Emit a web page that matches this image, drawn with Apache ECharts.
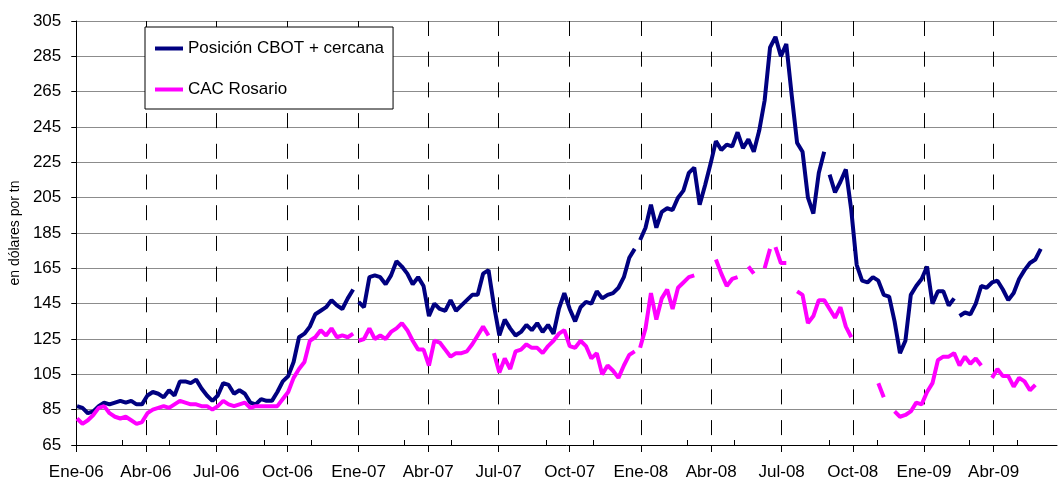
<!DOCTYPE html>
<html><head><meta charset="utf-8">
<script src="https://cdn.jsdelivr.net/npm/echarts@6/dist/echarts.min.js"></script>
<style>html,body{margin:0;padding:0;background:#fff}#c{width:1058px;height:484px}</style>
</head><body><div id="c"></div>
<script>
// Weekly observations, first week starts Monday 2006-01-02
const firstWeek = [2006, 0, 2];

// Posición CBOT + cercana (USD/tn), weekly
const cbot2006 = [87,86,83,84,87,89,88,89,90,89, 90,88,88,93,95,94,92,96,93,101, 101,100,102,97,93,90,93,100,99,94,
  96,94,89,88,91,90,90,95,101,104, 112,126,128,132,139,141,143,147,144,142, 148,153];
const cbot2007 = [146,143,160,161,160,156,161,169,166,162, 156,160,155,138,145,142,141,147,141,144,
  147,150,150,162,164,144,127,136,131,127, 129,133,130,134,129,133,128,142,151,142,
  135,143,146,145,152,148,150,151,154,160, 171,176];
const cbot2008 = [181,188,201,188,197,199,198,205,209,219, 222,201,212,224,237,232,235,234,242,233,
  238,231,243,260,290,296,285,292,263,236, 231,205,196,219,231,218,208,214,221,198,
  167,158,157,160,158,150,149,135,117,124, 150,155];
const cbot2009 = [159,166,145,152,152,144,148,138,140,139, 145,155,154,157,158,153,147,151,159,164, 168,170,176];

// CAC Rosario (USD/tn), weekly; null = no quotation
const cac2006 = [80,77,79,82,86,87,83,81,80,81, 79,77,78,83,85,86,87,86,88,90, 89,88,88,87,87,85,87,90,88,87,
  88,89,86,87,87,87,87,87,91,95, 103,108,112,124,126,130,127,131,126,127, 126,128];
const cac2007 = [124,125,131,125,127,125,129,131,134,130, 124,119,119,110,124,123,119,115,117,117,
  118,122,127,132,127,117,106,114,108,118, 119,122,120,120,117,121,124,128,130,121,
  120,124,121,114,117,105,110,107,103,110, 116,118];
const cac2008 = [120,131,151,136,148,153,142,154,157,160, 161,null,null,null,170,162,155,159,160,null,
  166,162,null,165,176,177,168,168,null,152, 150,134,138,147,147,142,137,143,132,126,
  null,null,null,null,100,92,null,84,81,82, 84,89];
const cac2009 = [88,95,100,113,115,115,117,110,115,111, 114,110,null,103,108,104,104,98,103,101, 96,99,null];

// Dates with no quotation between two weekly points (break the line)
const cbotGaps = ['2006-12-28', '2007-12-27', '2008-08-28', '2009-02-12'];
const cacGaps = ['2006-12-28', '2007-06-21', '2007-12-27', '2008-06-19'];

// Axis ticks
const quarterDates = ['2006-01-01','2006-04-01','2006-07-01','2006-10-01','2007-01-01','2007-04-01','2007-07-01','2007-10-01',
  '2008-01-01','2008-04-01','2008-07-01','2008-10-01','2009-01-01','2009-04-01'];
const quarterLabels = ['Ene-06','Abr-06','Jul-06','Oct-06','Ene-07','Abr-07','Jul-07','Oct-07',
  'Ene-08','Abr-08','Jul-08','Oct-08','Ene-09','Abr-09'];
const minorDates = ['2006-03-01','2006-05-01','2006-09-01','2006-11-01','2007-03-01','2007-05-01','2007-09-01','2007-11-01',
  '2008-03-01','2008-05-01','2008-09-01','2008-11-01','2009-03-01','2009-05-01'];
const xMin = '2006-01-01', xMax = '2009-06-22';

function ts(s){ const p = s.split('-').map(Number); return Date.UTC(p[0], p[1]-1, p[2]); }
function weekTs(i){ return Date.UTC(firstWeek[0], firstWeek[1], firstWeek[2] + 7*i); }
function build(vals, gaps){
  const pts = vals.map((v,i) => [weekTs(i), v == null ? '-' : v]);
  gaps.forEach(g => pts.push([ts(g), '-']));
  pts.sort((a,b) => a[0]-b[0]);
  return pts;
}
const cbot = build([].concat(cbot2006, cbot2007, cbot2008, cbot2009), cbotGaps);
const cac = build([].concat(cac2006, cac2007, cac2008, cac2009), cacGaps);

const FONT = "'Liberation Sans',Arial,sans-serif";
const qTs = quarterDates.map(ts);

const chart = echarts.init(document.getElementById('c'), null, {renderer:'canvas'});
chart.setOption({
  animation: false,
  backgroundColor: '#fff',
  grid: {left: 75, right: 1, top: 21, bottom: 39, containLabel: false},
  legend: {
    left: 145, top: 27, orient: 'vertical',
    padding: [13, 9, 11, 10], itemGap: 24, itemWidth: 28, itemHeight: 4, icon: 'rect',
    backgroundColor: '#fff', borderColor: '#000', borderWidth: 1,
    textStyle: {fontSize: 17, fontFamily: FONT, color: '#000'},
    data: ['Posición CBOT + cercana', 'CAC Rosario']
  },
  xAxis: [{
    type: 'value', min: ts(xMin), max: ts(xMax), position: 'bottom', scale: true,
    axisLine: {onZero: false, lineStyle: {color: '#000', width: 1}},
    axisTick: {show: true, inside: false, length: 7, lineStyle: {color: '#000'}, customValues: qTs},
    axisLabel: {customValues: qTs, margin: 19, fontSize: 17, fontFamily: FONT, color: '#000',
      formatter: v => { const k = qTs.indexOf(v); return k >= 0 ? quarterLabels[k] : ''; }},
    splitLine: {show: true, lineStyle: {color: '#000', width: 1, type: [15, 15.7]}}
  }, {
    type: 'value', min: ts(xMin), max: ts(xMax), position: 'bottom', gridIndex: 0, scale: true,
    axisLine: {show: false, onZero: false},
    axisTick: {show: true, inside: true, length: 5, lineStyle: {color: '#000'}, customValues: minorDates.map(ts)},
    axisLabel: {show: false},
    splitLine: {show: false}
  }],
  yAxis: {
    type: 'value', min: 65, max: 305, interval: 20,
    name: 'en dólares por tn', nameLocation: 'middle', nameRotate: 90, nameGap: 52,
    nameTextStyle: {fontSize: 14, fontFamily: FONT, color: '#000'},
    axisLine: {show: true, lineStyle: {color: '#000', width: 1}},
    axisTick: {show: true, length: 5, lineStyle: {color: '#000'}},
    axisLabel: {margin: 15, fontSize: 17, fontFamily: FONT, color: '#000'},
    splitLine: {show: true, lineStyle: {color: '#8c8c8c', width: 1}}
  },
  series: [{
    name: 'Posición CBOT + cercana', type: 'line', data: cbot, xAxisIndex: 0,
    showSymbol: false, connectNulls: false, color: '#000080',
    lineStyle: {width: 4, color: '#000080'}
  }, {
    name: 'CAC Rosario', type: 'line', data: cac, xAxisIndex: 0,
    showSymbol: false, connectNulls: false, color: '#ff00ff',
    lineStyle: {width: 4, color: '#ff00ff'}
  }]
});
</script></body></html>
